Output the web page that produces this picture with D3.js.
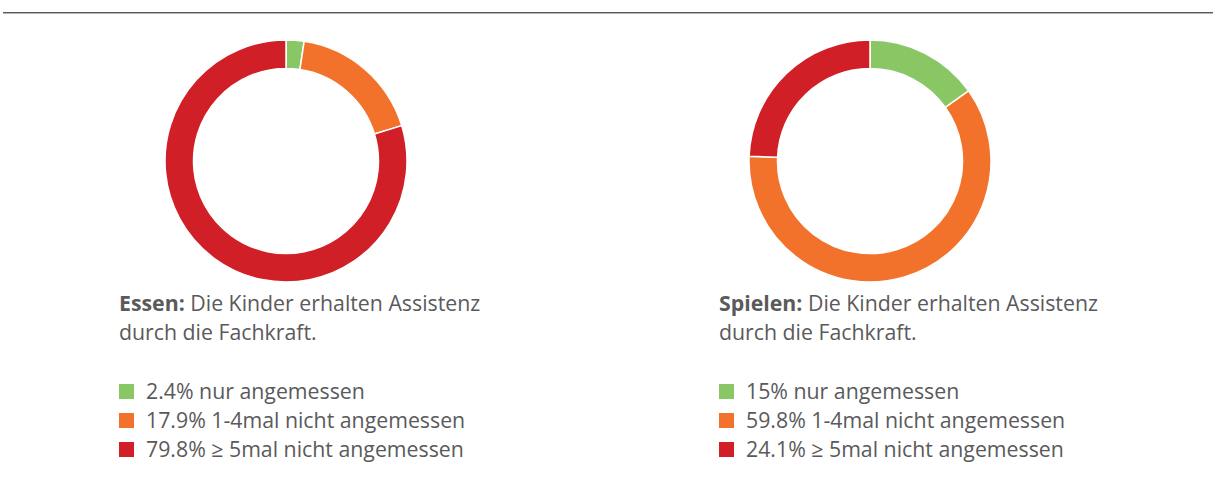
<!DOCTYPE html>
<html>
<head>
<meta charset="utf-8">
<script src="https://cdn.jsdelivr.net/npm/d3@7"></script>
<style>
  body { margin: 0; background: #fff; }
  svg { display: block; }
  text { font-family: "Open Sans", "Noto Sans", sans-serif; fill: #5a5a5c; }
</style>
</head>
<body>
<div id="chart"></div>
<script>
// categories and values
var categories = ["nur angemessen", "1-4mal nicht angemessen", "≥ 5mal nicht angemessen"];
var colors = ["#88c764", "#f3722b", "#d01f27"];
var essenValues = [2.4, 17.9, 79.8];
var spielenValues = [15, 59.8, 24.1];
var titles = ["Essen:", "Spielen:"];
var subtitle = ["Die Kinder erhalten Assistenz", "durch die Fachkraft."];

var width = 1213, height = 484;
var fontSize = "21.3px";

var svg = d3.select("#chart").append("svg")
    .attr("width", width)
    .attr("height", height);

// top rule
svg.append("line")
    .attr("x1", 3).attr("x2", width)
    .attr("y1", 12.5).attr("y2", 12.5)
    .style("stroke", "#5a5a5a").style("stroke-width", 1);
svg.append("line")
    .attr("x1", 3).attr("x2", width)
    .attr("y1", 13.5).attr("y2", 13.5)
    .style("stroke", "#b5b5b5").style("stroke-width", 1);

var pie = d3.pie().value(function (d) { return d; }).sort(null);
var arc = d3.arc().innerRadius(92.5).outerRadius(121);

var panels = [
    {cx: 286, textX: 119, values: essenValues, title: titles[0]},
    {cx: 870, textX: 719, values: spielenValues, title: titles[1]}
];

panels.forEach(function (p) {
    var g = svg.append("g")
        .attr("transform", "translate(" + p.cx + ",161)");

    g.selectAll("path")
        .data(pie(p.values))
        .enter()
        .append("path")
        .attr("d", arc)
        .attr("fill", function (d, i) { return colors[i]; })
        .style("stroke", "white")
        .style("stroke-width", 1.5);

    // caption
    var t = svg.append("text")
        .attr("x", p.textX)
        .attr("y", 311)
        .style("font-size", fontSize);
    t.append("tspan").style("font-weight", "bold").text(p.title);
    t.append("tspan").text(" " + subtitle[0]);
    svg.append("text")
        .attr("x", p.textX)
        .attr("y", 340)
        .style("font-size", fontSize)
        .text(subtitle[1]);

    // legend
    var legend = svg.append("g");
    var keys = legend.selectAll(".key")
        .data(p.values)
        .enter().append("g")
        .attr("class", "key")
        .attr("transform", function (d, i) { return "translate(" + p.textX + "," + (384 + i * 29) + ")"; });

    keys.append("rect")
        .attr("width", 15)
        .attr("height", 15)
        .attr("fill", function (d, i) { return colors[i]; });

    keys.append("text")
        .attr("x", 27)
        .attr("y", 15)
        .style("font-size", fontSize)
        .text(function (d, i) { return d + "% " + categories[i]; });
});
</script>
</body>
</html>
